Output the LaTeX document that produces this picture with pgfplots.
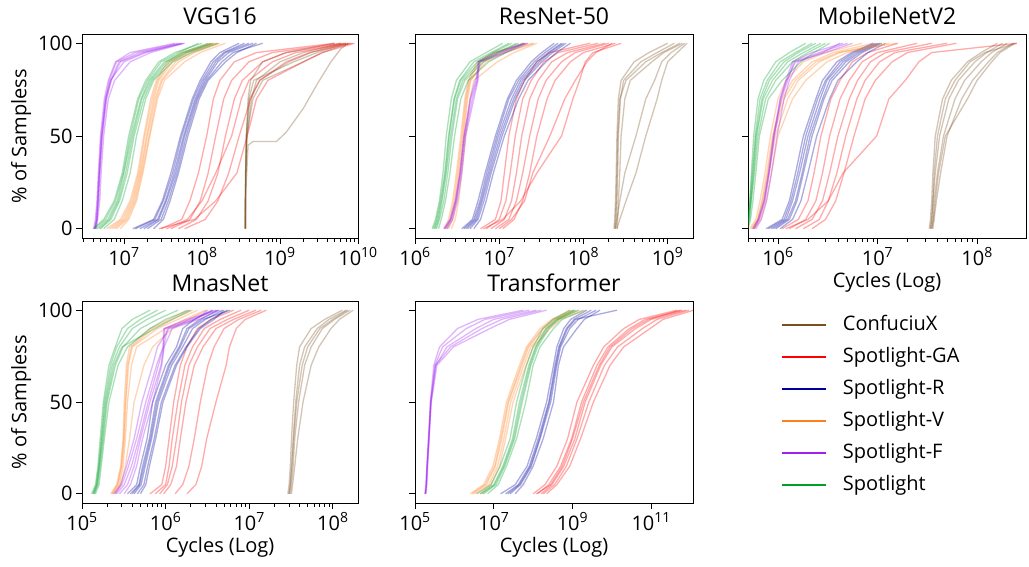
\documentclass[border=0pt]{standalone}
\usepackage{fontspec}
\setmainfont{Open Sans}
\usepackage{pgfplots}
\usepackage{pgfplotstable}
\pgfplotsset{compat=1.18}

\definecolor{cA}{RGB}{122,78,30}
\definecolor{cB}{RGB}{255,0,0}
\definecolor{cC}{RGB}{0,0,160}
\definecolor{cD}{RGB}{255,127,30}
\definecolor{cE}{RGB}{160,32,240}
\definecolor{cF}{RGB}{0,160,40}

% ---------------- VGG16 ----------------
\pgfplotstableread{
y c1 c2 c3 c4 c5
0 3.6e8 3.6e8 3.6e8 3.6e8 3.6e8
5 3.6e8 3.6e8 3.6e8 3.6e8 3.6e8
15 3.6e8 3.62e8 3.6e8 3.6e8 3.6e8
30 3.65e8 3.65e8 3.62e8 3.65e8 3.63e8
50 3.7e8 3.8e8 3.7e8 3.75e8 3.72e8
70 3.9e8 4.3e8 4.0e8 4.5e8 4.1e8
80 4.2e8 5.0e8 4.6e8 6.0e8 5.5e8
90 6.0e8 1.0e9 1.5e9 2.0e9 1.3e9
95 1.2e9 2.0e9 3.0e9 3.5e9 2.5e9
100 5.0e9 6.0e9 7.0e9 7.5e9 6.5e9
}\vggA
\pgfplotstableread{
y c1 c2 c3 c4 c5 c6
0 3.0e7 4.0e7 5.0e7 3.5e7 6.0e7 2.8e7
5 5.5e7 7.0e7 8.5e7 6.5e7 1.1e8 8.0e7
15 7.0e7 9.5e7 1.2e8 1.0e8 1.6e8 1.5e8
30 9.0e7 1.2e8 1.6e8 1.5e8 2.2e8 2.8e8
50 1.15e8 1.5e8 2.0e8 2.4e8 3.0e8 3.8e8
70 1.4e8 1.9e8 2.6e8 3.2e8 4.2e8 5.0e8
80 1.7e8 2.4e8 3.3e8 4.0e8 5.5e8 7.0e8
90 2.6e8 4.0e8 6.0e8 8.0e8 1.2e9 2.0e9
95 5.0e8 8.0e8 1.2e9 1.6e9 2.4e9 3.5e9
100 5.0e9 6.0e9 7.0e9 8.0e9 8.5e9 9.0e9
}\vggB
\pgfplotstableread{
y c1 c2 c3 c4 c5 c6
0 1.3e7 1.6e7 2.0e7 1.4e7 2.4e7 1.8e7
5 2.4e7 2.7e7 3.0e7 2.5e7 3.2e7 2.8e7
15 3.1e7 3.4e7 3.7e7 3.2e7 3.9e7 3.5e7
30 4.0e7 4.4e7 4.8e7 4.2e7 5.0e7 4.6e7
50 5.3e7 5.8e7 6.3e7 5.5e7 6.6e7 6.0e7
70 7.5e7 8.2e7 8.8e7 7.8e7 9.2e7 8.5e7
80 9.5e7 1.05e8 1.15e8 1.0e8 1.2e8 1.1e8
90 1.3e8 1.5e8 1.8e8 1.4e8 2.0e8 1.6e8
95 1.7e8 2.0e8 2.5e8 1.9e8 2.8e8 2.2e8
100 3.0e8 4.0e8 6.0e8 3.5e8 5.0e8 4.5e8
}\vggC
\pgfplotstableread{
y c1 c2 c3 c4 c5 c6
0 6.0e6 7.0e6 8.0e6 6.5e6 9.0e6 7.5e6
5 9.0e6 1.0e7 1.1e7 9.5e6 1.15e7 1.05e7
15 1.2e7 1.3e7 1.4e7 1.25e7 1.45e7 1.35e7
30 1.5e7 1.6e7 1.7e7 1.55e7 1.75e7 1.65e7
50 1.8e7 1.95e7 2.1e7 1.85e7 2.15e7 2.0e7
70 2.2e7 2.4e7 2.6e7 2.3e7 2.7e7 2.5e7
80 2.6e7 2.8e7 3.1e7 2.7e7 3.3e7 3.0e7
90 3.6e7 4.2e7 5.0e7 3.9e7 6.0e7 4.6e7
95 5.5e7 6.5e7 8.0e7 6.0e7 9.5e7 7.0e7
100 1.3e8 1.5e8 1.7e8 1.4e8 2.0e8 1.6e8
}\vggD
\pgfplotstableread{
y c1 c2 c3 c4 c5 c6
0 4.2e6 4.3e6 4.1e6 4.4e6 4.2e6 4.3e6
5 4.4e6 4.5e6 4.3e6 4.6e6 4.5e6 4.5e6
15 4.6e6 4.7e6 4.5e6 4.9e6 4.7e6 4.6e6
30 4.8e6 4.9e6 4.7e6 5.1e6 4.9e6 4.8e6
50 5.1e6 5.3e6 5.0e6 5.5e6 5.2e6 5.2e6
70 5.8e6 6.0e6 5.6e6 6.3e6 5.9e6 5.8e6
80 6.5e6 6.9e6 6.3e6 7.6e6 6.8e6 6.7e6
90 8.0e6 9.0e6 7.8e6 1.2e7 8.6e6 1.0e7
95 1.4e7 1.8e7 1.2e7 2.2e7 1.6e7 1.9e7
100 5.0e7 5.8e7 4.5e7 6.0e7 5.4e7 5.6e7
}\vggE
\pgfplotstableread{
y c1 c2 c3 c4 c5 c6
0 4.0e6 4.5e6 5.0e6 4.2e6 5.5e6 4.8e6
5 5.5e6 6.2e6 6.8e6 5.8e6 7.5e6 6.5e6
15 7.5e6 8.2e6 8.8e6 7.8e6 9.5e6 8.5e6
30 9.5e6 1.0e7 1.1e7 9.8e6 1.2e7 1.05e7
50 1.15e7 1.25e7 1.35e7 1.2e7 1.45e7 1.3e7
70 1.5e7 1.65e7 1.8e7 1.55e7 1.9e7 1.7e7
80 1.9e7 2.1e7 2.3e7 2.0e7 2.4e7 2.2e7
90 2.8e7 3.3e7 3.8e7 3.0e7 4.2e7 3.5e7
95 4.5e7 5.5e7 6.5e7 5.0e7 7.5e7 6.0e7
100 1.0e8 1.2e8 1.4e8 9.0e7 1.6e8 1.3e8
}\vggF

% ---------------- ResNet-50 ----------------
\pgfplotstableread{
y c1 c2 c3 c4 c5 c6
0 2.3e8 2.4e8 2.35e8 2.5e8 2.4e8 2.5e8
5 2.35e8 2.45e8 2.4e8 2.55e8 2.5e8 2.7e8
15 2.4e8 2.5e8 2.45e8 2.6e8 2.7e8 3.2e8
30 2.45e8 2.55e8 2.5e8 2.7e8 3.1e8 4.2e8
50 2.5e8 2.6e8 2.55e8 2.8e8 4.2e8 5.5e8
70 2.6e8 2.75e8 2.7e8 3.1e8 5.5e8 7.5e8
80 2.8e8 3.0e8 3.2e8 3.6e8 7.0e8 8.5e8
90 4.0e8 4.8e8 5.5e8 6.5e8 8.5e8 1.0e9
95 6.0e8 7.5e8 8.5e8 9.0e8 1.1e9 1.3e9
100 1.0e9 1.2e9 1.4e9 1.5e9 1.6e9 1.7e9
}\resA
\pgfplotstableread{
y c1 c2 c3 c4 c5 c6 c7
0 6.0e6 7.0e6 8.0e6 9.0e6 1.1e7 6.5e6 1.0e7
5 9.0e6 1.0e7 1.15e7 1.3e7 1.5e7 1.1e7 1.4e7
15 1.05e7 1.2e7 1.4e7 1.6e7 1.9e7 1.8e7 2.0e7
30 1.15e7 1.35e7 1.6e7 1.9e7 2.3e7 2.8e7 2.5e7
50 1.3e7 1.55e7 1.85e7 2.3e7 2.8e7 5.5e7 4.0e7
70 1.6e7 1.9e7 2.3e7 2.9e7 3.7e7 7.5e7 6.0e7
80 2.0e7 2.4e7 2.9e7 3.6e7 4.6e7 9.0e7 8.0e7
90 2.8e7 3.4e7 4.2e7 5.5e7 7.0e7 1.05e8 1.1e8
95 4.0e7 5.0e7 6.5e7 8.0e7 1.0e8 1.3e8 1.4e8
100 1.2e8 1.5e8 1.8e8 2.0e8 2.4e8 2.8e8 2.2e8
}\resB
\pgfplotstableread{
y c1 c2 c3 c4 c5 c6
0 3.6e6 4.0e6 4.5e6 3.8e6 5.0e6 4.2e6
5 4.8e6 5.2e6 5.6e6 5.0e6 6.0e6 5.4e6
15 5.6e6 6.1e6 6.6e6 5.9e6 7.0e6 6.3e6
30 6.8e6 7.4e6 8.0e6 7.1e6 8.5e6 7.7e6
50 9.0e6 9.8e6 1.08e7 9.4e6 1.15e7 1.03e7
70 1.25e7 1.4e7 1.55e7 1.3e7 1.7e7 1.48e7
80 1.6e7 1.8e7 2.0e7 1.7e7 2.2e7 1.9e7
90 2.4e7 2.8e7 3.2e7 2.6e7 3.6e7 3.0e7
95 3.2e7 3.8e7 4.3e7 3.5e7 4.8e7 4.0e7
100 4.5e7 5.5e7 6.2e7 5.0e7 7.0e7 5.8e7
}\resC
\pgfplotstableread{
y c1 c2 c3 c4 c5
0 2.3e6 2.5e6 2.4e6 2.7e6 2.2e6
5 2.6e6 2.8e6 2.7e6 3.0e6 2.5e6
15 2.9e6 3.1e6 3.0e6 3.3e6 2.8e6
30 3.2e6 3.4e6 3.3e6 3.6e6 3.1e6
50 3.6e6 3.8e6 3.7e6 4.0e6 3.5e6
70 4.0e6 4.2e6 4.1e6 4.5e6 3.9e6
80 4.4e6 4.6e6 4.5e6 5.0e6 4.3e6
90 5.8e6 6.5e6 7.0e6 9.5e6 5.5e6
95 9.0e6 1.1e7 1.2e7 1.5e7 8.5e6
100 2.2e7 2.5e7 2.6e7 2.8e7 2.0e7
}\resD
\pgfplotstableread{
y c1 c2 c3 c4
0 2.2e6 2.3e6 2.4e6 2.25e6
5 2.6e6 2.7e6 2.8e6 2.65e6
15 3.0e6 3.1e6 3.2e6 3.05e6
30 3.4e6 3.5e6 3.6e6 3.45e6
50 3.8e6 3.9e6 4.0e6 3.85e6
70 4.6e6 4.8e6 5.0e6 4.5e6
80 5.4e6 5.5e6 5.6e6 5.2e6
90 5.6e6 5.7e6 5.8e6 6.0e6
95 9.0e6 1.0e7 1.1e7 1.2e7
100 2.0e7 2.1e7 1.9e7 2.2e7
}\resE
\pgfplotstableread{
y c1 c2 c3 c4 c5 c6
0 1.6e6 1.7e6 1.8e6 1.65e6 1.9e6 1.75e6
5 1.75e6 1.85e6 1.95e6 1.8e6 2.05e6 1.9e6
15 1.95e6 2.05e6 2.2e6 2.0e6 2.3e6 2.1e6
30 2.15e6 2.3e6 2.45e6 2.25e6 2.6e6 2.35e6
50 2.35e6 2.55e6 2.75e6 2.5e6 2.95e6 2.65e6
70 2.7e6 2.95e6 3.2e6 2.9e6 3.5e6 3.1e6
80 3.1e6 3.5e6 3.9e6 3.4e6 4.3e6 3.7e6
90 4.5e6 5.5e6 6.5e6 5.0e6 7.5e6 6.0e6
95 7.0e6 8.5e6 1.0e7 8.0e6 1.2e7 9.5e6
100 1.1e7 1.4e7 1.7e7 1.3e7 2.0e7 1.6e7
}\resF

% ---------------- MobileNetV2 ----------------
\pgfplotstableread{
y c1 c2 c3 c4 c5 c6
0 3.3e7 3.4e7 3.5e7 3.6e7 3.4e7 3.5e7
5 3.4e7 3.5e7 3.6e7 3.7e7 3.5e7 3.65e7
15 3.5e7 3.6e7 3.7e7 3.9e7 3.6e7 3.8e7
30 3.6e7 3.8e7 4.0e7 4.3e7 3.7e7 4.1e7
50 3.8e7 4.2e7 4.6e7 5.0e7 4.0e7 4.8e7
70 4.5e7 5.2e7 6.0e7 7.0e7 4.8e7 8.0e7
80 5.5e7 6.5e7 7.5e7 9.0e7 6.0e7 1.0e8
90 8.0e7 9.5e7 1.1e8 1.3e8 8.5e7 1.4e8
95 1.1e8 1.25e8 1.4e8 1.6e8 1.2e8 1.7e8
100 1.6e8 1.8e8 2.0e8 2.3e8 2.5e8 2.4e8
}\mobA
\pgfplotstableread{
y c1 c2 c3 c4 c5 c6
0 1.1e6 1.3e6 1.5e6 1.8e6 2.2e6 1.2e6
5 1.6e6 1.9e6 2.2e6 2.6e6 3.0e6 2.0e6
15 2.0e6 2.4e6 2.8e6 3.2e6 3.8e6 3.2e6
30 2.3e6 2.8e6 3.3e6 3.9e6 4.6e6 4.5e6
50 2.7e6 3.3e6 4.0e6 4.8e6 5.8e6 9.8e6
70 3.4e6 4.2e6 5.2e6 6.2e6 7.5e6 1.3e7
80 4.2e6 5.2e6 6.3e6 7.5e6 9.5e6 1.9e7
90 5.6e6 7.0e6 8.5e6 1.05e7 1.4e7 2.6e7
95 8.0e6 1.0e7 1.2e7 1.5e7 2.0e7 3.5e7
100 1.6e7 2.5e7 3.5e7 5.0e7 6.2e7 2.5e8
}\mobB
\pgfplotstableread{
y c1 c2 c3 c4 c5 c6
0 7.6e5 8.5e5 9.5e5 1.05e6 8.0e5 9.0e5
5 1.1e6 1.2e6 1.3e6 1.4e6 1.15e6 1.25e6
15 1.3e6 1.4e6 1.55e6 1.7e6 1.35e6 1.5e6
30 1.5e6 1.65e6 1.8e6 2.0e6 1.58e6 1.75e6
50 1.8e6 2.0e6 2.2e6 2.45e6 1.9e6 2.1e6
70 2.4e6 2.65e6 2.9e6 3.3e6 2.5e6 2.8e6
80 2.8e6 3.1e6 3.5e6 4.0e6 3.0e6 3.3e6
90 3.9e6 4.5e6 5.2e6 6.2e6 4.2e6 4.8e6
95 5.5e6 6.2e6 7.0e6 8.0e6 5.8e6 6.6e6
100 9.0e6 1.0e7 1.1e7 1.2e7 9.5e6 1.05e7
}\mobC
\pgfplotstableread{
y c1 c2 c3 c4 c5
0 5.2e5 5.4e5 5.6e5 5.8e5 5.5e5
5 6.0e5 6.2e5 6.4e5 6.7e5 6.3e5
15 6.6e5 6.9e5 7.2e5 7.6e5 7.0e5
30 7.4e5 7.7e5 8.1e5 8.6e5 7.9e5
50 8.4e5 8.8e5 9.4e5 1.0e6 9.0e5
70 1.0e6 1.1e6 1.25e6 1.4e6 1.15e6
80 1.2e6 1.4e6 1.6e6 1.9e6 1.5e6
90 1.8e6 2.2e6 2.6e6 3.1e6 2.4e6
95 3.0e6 3.6e6 4.2e6 5.0e6 4.0e6
100 7.0e6 9.0e6 1.1e7 1.3e7 1.55e7
}\mobD
\pgfplotstableread{
y c1 c2 c3 c4
0 5.6e5 5.8e5 5.7e5 6.0e5
5 6.3e5 6.5e5 6.4e5 6.8e5
15 7.2e5 7.4e5 7.3e5 7.7e5
30 8.0e5 8.2e5 8.1e5 8.6e5
50 9.0e5 9.2e5 9.1e5 9.8e5
70 1.05e6 1.08e6 1.06e6 1.15e6
80 1.2e6 1.25e6 1.22e6 1.3e6
90 1.4e6 1.45e6 1.5e6 1.6e6
95 2.2e6 2.6e6 3.0e6 2.8e6
100 4.5e6 5.0e6 5.6e6 4.2e6
}\mobE
\pgfplotstableread{
y c1 c2 c3 c4 c5 c6
0 4.7e5 4.8e5 4.9e5 4.7e5 5.0e5 4.8e5
5 5.0e5 5.1e5 5.2e5 5.0e5 5.3e5 5.1e5
15 5.2e5 5.3e5 5.4e5 5.25e5 5.6e5 5.35e5
30 5.4e5 5.6e5 5.8e5 5.5e5 6.0e5 5.7e5
50 5.7e5 6.0e5 6.3e5 5.9e5 6.5e5 6.1e5
70 6.3e5 6.9e5 7.5e5 6.6e5 8.0e5 7.1e5
80 7.2e5 8.2e5 9.5e5 7.8e5 1.1e6 8.8e5
90 9.5e5 1.15e6 1.4e6 1.05e6 1.7e6 1.25e6
95 1.3e6 1.6e6 2.0e6 1.5e6 2.3e6 1.8e6
100 1.9e6 2.4e6 3.0e6 2.2e6 3.3e6 2.7e6
}\mobF

% ---------------- MnasNet ----------------
\pgfplotstableread{
y c1 c2 c3 c4 c5
0 2.9e7 3.0e7 3.1e7 3.2e7 3.0e7
5 3.0e7 3.1e7 3.2e7 3.3e7 3.1e7
15 3.1e7 3.2e7 3.35e7 3.5e7 3.25e7
30 3.2e7 3.35e7 3.5e7 3.8e7 3.4e7
50 3.4e7 3.6e7 3.9e7 4.4e7 3.7e7
70 3.7e7 4.0e7 4.6e7 5.5e7 4.3e7
80 4.0e7 4.6e7 5.5e7 6.8e7 5.0e7
90 5.5e7 6.5e7 7.5e7 9.5e7 7.0e7
95 8.0e7 9.0e7 1.05e8 1.2e8 1.0e8
100 1.3e8 1.45e8 1.6e8 1.75e8 1.5e8
}\mnaA
\pgfplotstableread{
y c1 c2 c3 c4 c5 c6
0 6.5e5 7.5e5 8.5e5 9.5e5 1.3e6 1.8e6
5 9.0e5 1.0e6 1.05e6 1.15e6 1.6e6 2.3e6
15 1.0e6 1.1e6 1.2e6 1.35e6 1.9e6 2.7e6
30 1.1e6 1.2e6 1.35e6 1.5e6 2.2e6 3.1e6
50 1.25e6 1.4e6 1.55e6 1.75e6 2.6e6 4.0e6
70 1.5e6 1.7e6 1.9e6 2.2e6 3.2e6 5.3e6
80 1.8e6 2.1e6 2.4e6 2.8e6 3.8e6 5.8e6
90 2.4e6 2.9e6 3.4e6 4.0e6 5.0e6 7.0e6
95 3.5e6 4.5e6 5.5e6 6.5e6 7.5e6 9.0e6
100 6.5e6 8.0e6 1.0e7 1.2e7 1.4e7 1.6e7
}\mnaB
\pgfplotstableread{
y c1 c2 c3 c4 c5 c6
0 3.5e5 3.8e5 4.2e5 4.6e5 4.0e5 5.0e5
5 4.5e5 4.8e5 5.1e5 5.5e5 4.9e5 5.8e5
15 5.0e5 5.3e5 5.7e5 6.1e5 5.5e5 6.4e5
30 6.0e5 6.4e5 6.8e5 7.3e5 6.6e5 7.6e5
50 7.0e5 7.6e5 8.2e5 8.9e5 7.9e5 9.3e5
70 1.0e6 1.08e6 1.18e6 1.3e6 1.12e6 1.35e6
80 1.35e6 1.45e6 1.6e6 1.75e6 1.5e6 1.8e6
90 1.6e6 1.8e6 2.1e6 2.5e6 1.9e6 2.6e6
95 2.2e6 2.6e6 3.0e6 3.5e6 2.8e6 3.8e6
100 3.7e6 4.2e6 4.8e6 5.5e6 5.9e6 5.0e6
}\mnaC
\pgfplotstableread{
y c1 c2 c3 c4 c5
0 2.2e5 2.3e5 2.4e5 2.5e5 2.3e5
5 2.6e5 2.7e5 2.8e5 2.9e5 2.65e5
15 2.9e5 3.0e5 3.1e5 3.3e5 2.95e5
30 3.1e5 3.2e5 3.3e5 3.7e5 3.15e5
50 3.2e5 3.35e5 3.5e5 4.2e5 3.3e5
70 3.4e5 3.6e5 3.9e5 5.5e5 3.5e5
80 3.7e5 4.0e5 4.5e5 7.0e5 3.9e5
90 6.5e5 8.0e5 1.0e6 1.2e6 7.0e5
95 1.1e6 1.4e6 1.7e6 1.9e6 1.2e6
100 1.8e6 2.4e6 3.0e6 3.1e6 2.1e6
}\mnaD
\pgfplotstableread{
y c1 c2 c3 c4 c5
0 2.5e5 2.6e5 2.8e5 3.2e5 2.4e5
5 3.0e5 3.2e5 3.5e5 3.8e5 2.9e5
15 3.6e5 3.9e5 4.2e5 4.5e5 3.4e5
30 4.5e5 4.8e5 5.0e5 5.3e5 4.2e5
50 5.8e5 6.2e5 6.5e5 7.0e5 5.2e5
70 7.8e5 8.2e5 8.8e5 9.0e5 7.0e5
80 9.3e5 9.4e5 9.5e5 9.6e5 8.0e5
90 9.5e5 9.8e5 1.05e6 1.2e6 1.1e6
95 1.8e6 2.0e6 2.2e6 2.5e6 2.3e6
100 4.0e6 4.3e6 3.6e6 4.5e6 3.2e6
}\mnaE
\pgfplotstableread{
y c1 c2 c3 c4 c5 c6
0 1.3e5 1.35e5 1.4e5 1.45e5 1.35e5 1.4e5
5 1.45e5 1.5e5 1.55e5 1.6e5 1.48e5 1.52e5
15 1.55e5 1.6e5 1.65e5 1.7e5 1.58e5 1.62e5
30 1.65e5 1.72e5 1.8e5 1.85e5 1.7e5 1.76e5
50 1.8e5 1.9e5 2.0e5 2.1e5 1.85e5 1.95e5
70 2.1e5 2.3e5 2.5e5 2.7e5 2.2e5 2.4e5
80 2.5e5 2.8e5 3.1e5 3.5e5 2.6e5 3.0e5
90 3.0e5 4.0e5 5.0e5 6.5e5 3.5e5 7.5e5
95 4.0e5 6.0e5 8.0e5 1.0e6 5.0e5 1.2e6
100 6.5e5 1.0e6 1.4e6 1.9e6 8.0e5 2.0e6
}\mnaF

% ---------------- Transformer ----------------
\pgfplotstableread{
y c1 c2 c3 c4 c5 c6
0 1.0e8 1.3e8 1.6e8 2.2e8 1.8e8 1.2e8
5 2.0e8 2.5e8 3.0e8 4.0e8 3.5e8 2.8e8
15 4.0e8 5.0e8 6.0e8 8.5e8 7.0e8 5.5e8
30 7.5e8 9.5e8 1.15e9 1.6e9 1.3e9 1.0e9
50 1.3e9 1.7e9 2.1e9 3.4e9 2.6e9 1.9e9
70 3.4e9 4.2e9 5.2e9 9.0e9 6.5e9 4.8e9
80 6.2e9 8.0e9 1.0e10 2.0e10 1.4e10 9.0e9
90 2.0e10 2.8e10 4.0e10 9.3e10 6.0e10 3.3e10
95 5.0e10 7.0e10 1.0e11 2.0e11 1.4e11 8.5e10
100 4.5e11 6.0e11 7.5e11 1.2e12 9.0e11 5.5e11
}\traB
\pgfplotstableread{
y c1 c2 c3 c4 c5
0 1.5e7 2.0e7 2.6e7 3.5e7 2.3e7
5 3.5e7 4.2e7 4.8e7 5.6e7 4.5e7
15 7.0e7 8.0e7 9.0e7 1.0e8 8.5e7
30 1.2e8 1.35e8 1.5e8 1.8e8 1.45e8
50 2.2e8 2.5e8 2.8e8 3.3e8 2.6e8
70 3.3e8 3.6e8 4.0e8 4.4e8 3.8e8
80 4.0e8 4.5e8 5.0e8 5.9e8 4.7e8
90 6.0e8 7.0e8 8.5e8 1.3e9 7.5e8
95 9.0e8 1.1e9 1.4e9 2.0e9 1.2e9
100 2.3e9 3.0e9 4.0e9 5.0e9 1.35e10
}\traC
\pgfplotstableread{
y c1 c2 c3 c4 c5
0 2.5e6 3.0e6 3.5e6 4.5e6 2.8e6
5 5.5e6 6.5e6 7.5e6 8.5e6 6.0e6
15 9.5e6 1.1e7 1.25e7 1.4e7 1.05e7
30 1.4e7 1.6e7 1.8e7 2.0e7 1.5e7
50 2.1e7 2.4e7 2.7e7 3.1e7 2.3e7
70 4.5e7 5.2e7 5.8e7 6.6e7 4.9e7
80 6.8e7 7.8e7 8.8e7 1.0e8 7.3e7
90 1.5e8 1.8e8 2.2e8 2.7e8 1.7e8
95 3.0e8 3.6e8 4.2e8 5.0e8 3.3e8
100 8.7e8 1.1e9 1.5e9 2.2e9 1.0e9
}\traD
\pgfplotstableread{
y c1 c2 c3 c4 c5
0 1.8e5 1.85e5 1.9e5 1.8e5 1.85e5
5 1.9e5 1.95e5 2.0e5 1.9e5 1.95e5
15 2.0e5 2.05e5 2.1e5 2.0e5 2.05e5
30 2.2e5 2.25e5 2.3e5 2.2e5 2.25e5
50 2.45e5 2.5e5 2.55e5 2.5e5 2.6e5
70 3.0e5 3.2e5 3.4e5 3.3e5 3.6e5
80 4.2e5 5.0e5 6.5e5 8.0e5 9.5e5
90 1.2e6 2.0e6 3.5e6 5.0e6 8.0e6
95 4.0e6 6.0e6 1.0e7 1.6e7 2.5e7
100 5.6e7 8.0e7 1.2e8 1.6e8 2.2e8
}\traE
\pgfplotstableread{
y c1 c2 c3 c4 c5
0 3.7e6 4.5e6 5.5e6 7.0e6 5.0e6
5 8.5e6 1.0e7 1.15e7 1.3e7 1.05e7
15 1.45e7 1.7e7 1.9e7 2.1e7 1.8e7
30 2.6e7 3.0e7 3.4e7 3.8e7 3.2e7
50 3.8e7 4.5e7 5.3e7 6.5e7 4.9e7
70 6.8e7 7.8e7 8.8e7 1.0e8 8.3e7
80 1.0e8 1.15e8 1.3e8 1.5e8 1.2e8
90 1.8e8 2.1e8 2.5e8 3.3e8 2.3e8
95 3.2e8 3.8e8 4.5e8 5.5e8 4.2e8
100 8.7e8 1.1e9 1.4e9 1.9e9 1.2e9
}\traF

\newcommand{\curves}[3]{\pgfplotsinvokeforeach{#2}{\addplot[myrun,#1] table[x=##1,y=y]{#3};}}

\pgfplotsset{
  myrun/.style={line width=1.3pt, opacity=0.33, mark=none},
  myaxis/.style={
    scale only axis,
    ymin=-5, ymax=105, ytick={0,50,100}, yticklabels={0,50,100},
    tick align=outside, xtick pos=bottom, ytick pos=left,
    major tick length=6pt, minor tick length=3.5pt,
    every tick/.style={black, line width=0.8pt},
    axis line style={line width=0.8pt},
    tick label style={font=\fontsize{20}{24}\selectfont},
    every axis label/.append style={font=\fontsize{20}{24}\selectfont},
    every axis title/.append style={font=\fontsize{23}{28}\selectfont},
    xticklabel={10\textsuperscript{\pgfmathparse{int(round(\tick))}\pgfmathresult}},
  },
  myno/.style={yticklabels={}},
}

\begin{document}
\begin{tikzpicture}
\path[use as bounding box] (0pt,0pt) rectangle (1029pt,566pt);

% VGG16
\begin{axis}[xmode=log, log basis x=10, myaxis, at={(82pt,328pt)}, anchor=south west, width=276pt, height=204pt,
  xmin=2.9e6, xmax=1e10, title={VGG16}, ylabel={\% of Sampless}]
\curves{cA}{c1,c2,c3,c4,c5}{\vggA}
\addplot[myrun,cA] coordinates {(3.6e8,0) (3.65e8,20) (3.9e8,45) (4.5e8,47) (9e8,47) (1.2e9,52) (2e9,65) (3e9,78) (4.5e9,90) (6e9,97) (7.5e9,100)};
\curves{cB}{c1,c2,c3,c4,c5,c6}{\vggB}
\curves{cC}{c1,c2,c3,c4,c5,c6}{\vggC}
\curves{cD}{c1,c2,c3,c4,c5,c6}{\vggD}
\curves{cE}{c1,c2,c3,c4,c5,c6}{\vggE}
\curves{cF}{c1,c2,c3,c4,c5,c6}{\vggF}
\end{axis}

% ResNet-50
\begin{axis}[xmode=log, log basis x=10, myaxis, myno, at={(415pt,328pt)}, anchor=south west, width=278pt, height=204pt,
  xmin=1e6, xmax=2e9, title={ResNet-50}]
\curves{cA}{c1,c2,c3,c4,c5,c6}{\resA}
\curves{cB}{c1,c2,c3,c4,c5,c6,c7}{\resB}
\curves{cC}{c1,c2,c3,c4,c5,c6}{\resC}
\curves{cD}{c1,c2,c3,c4,c5}{\resD}
\curves{cE}{c1,c2,c3,c4}{\resE}
\curves{cF}{c1,c2,c3,c4,c5,c6}{\resF}
\end{axis}

% MobileNetV2
\begin{axis}[xmode=log, log basis x=10, myaxis, myno, at={(748pt,328pt)}, anchor=south west, width=278pt, height=204pt,
  xmin=5e5, xmax=3.1e8, title={MobileNetV2}, xlabel={Cycles (Log)}]
\curves{cA}{c1,c2,c3,c4,c5,c6}{\mobA}
\curves{cB}{c1,c2,c3,c4,c5,c6}{\mobB}
\curves{cC}{c1,c2,c3,c4,c5,c6}{\mobC}
\curves{cD}{c1,c2,c3,c4,c5}{\mobD}
\curves{cE}{c1,c2,c3,c4}{\mobE}
\curves{cF}{c1,c2,c3,c4,c5,c6}{\mobF}
\end{axis}

% MnasNet
\begin{axis}[xmode=log, log basis x=10, myaxis, at={(82pt,63pt)}, anchor=south west, width=276pt, height=202pt,
  xmin=1e5, xmax=2e8, title={MnasNet}, ylabel={\% of Sampless}, xlabel={Cycles (Log)}]
\curves{cA}{c1,c2,c3,c4,c5}{\mnaA}
\curves{cB}{c1,c2,c3,c4,c5,c6}{\mnaB}
\curves{cC}{c1,c2,c3,c4,c5,c6}{\mnaC}
\curves{cD}{c1,c2,c3,c4,c5}{\mnaD}
\curves{cE}{c1,c2,c3,c4,c5}{\mnaE}
\curves{cF}{c1,c2,c3,c4,c5,c6}{\mnaF}
\end{axis}

% Transformer
\begin{axis}[xmode=log, log basis x=10, myaxis, myno, at={(415pt,63pt)}, anchor=south west, width=278pt, height=202pt,
  xmin=1e5, xmax=1.15e12, xtick={1e5,1e7,1e9,1e11}, minor xtick={},
  title={Transformer}, xlabel={Cycles (Log)},
  legend style={at={(1.305,0.94)}, anchor=north west, draw=none, fill=none,
    font=\fontsize{20}{24}\selectfont, row sep=12pt,
    nodes={inner sep=0pt, text height=15pt, text depth=5pt},
    /tikz/every odd column/.append style={column sep=16pt}},
  legend cell align=left,
  legend image code/.code={\draw[#1] (0pt,0pt) -- (44pt,0pt);}]
\addlegendimage{cA, line width=2pt}
\addlegendimage{cB, line width=2pt}
\addlegendimage{cC, line width=2pt}
\addlegendimage{cD, line width=2pt}
\addlegendimage{cE, line width=2pt}
\addlegendimage{cF, line width=2pt}
\curves{cB}{c1,c2,c3,c4,c5,c6}{\traB}
\curves{cC}{c1,c2,c3,c4,c5}{\traC}
\curves{cD}{c1,c2,c3,c4,c5}{\traD}
\curves{cE}{c1,c2,c3,c4,c5}{\traE}
\curves{cF}{c1,c2,c3,c4,c5}{\traF}
\legend{ConfuciuX,Spotlight-GA,Spotlight-R,Spotlight-V,Spotlight-F,Spotlight}
\end{axis}
\end{tikzpicture}
\end{document}
